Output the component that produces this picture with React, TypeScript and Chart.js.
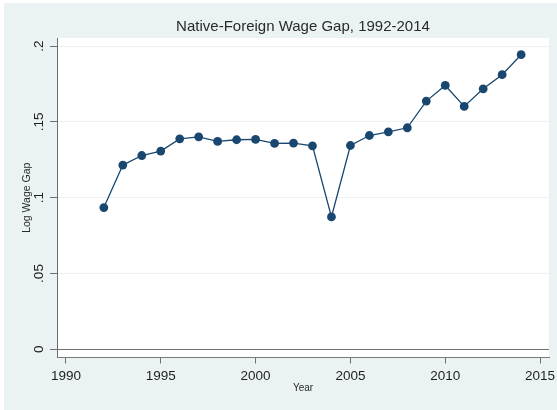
import React, { useEffect, useRef } from "react";
import { Chart, registerables } from "chart.js";

Chart.register(...registerables);

const years = [1992, 1993, 1994, 1995, 1996, 1997, 1998, 1999, 2000, 2001, 2002, 2003, 2004, 2005, 2006, 2007, 2008, 2009, 2010, 2011, 2012, 2013, 2014];
const wageGap = [0.0935, 0.1215, 0.1278, 0.1307, 0.1388, 0.1401, 0.1371, 0.1382, 0.1384, 0.1358, 0.136, 0.1342, 0.0873, 0.1344, 0.141, 0.1434, 0.1461, 0.1637, 0.174, 0.1602, 0.1718, 0.1811, 0.1943];
const xTicks = [1990, 1995, 2000, 2005, 2010, 2015];
const yTicks = [0, 0.05, 0.1, 0.15, 0.2];
const titleText = "Native-Foreign Wage Gap, 1992-2014";
const xTitle = "Year";
const yTitle = "Log Wage Gap";

const FONT = "'Liberation Sans', Arial, sans-serif";
const BG = "#eaf2f3";
const NAVY = "#1a476f";

const bgPlugin = {
  id: "stataBg",
  beforeDraw(chart: any) {
    const { ctx, chartArea } = chart;
    ctx.save();
    ctx.fillStyle = "#ffffff";
    ctx.fillRect(0, 0, chart.width, chart.height);
    ctx.fillStyle = BG;
    ctx.fillRect(4, 3, chart.width - 4, chart.height - 3);
    ctx.fillStyle = "#ffffff";
    ctx.fillRect(chartArea.left, chartArea.top, chartArea.right - chartArea.left, chartArea.bottom - chartArea.top);
    ctx.restore();
  },
};

export default function App() {
  const ref = useRef<HTMLCanvasElement | null>(null);

  useEffect(() => {
    if (!ref.current) return;
    const chart = new Chart(ref.current, {
      type: "line",
      data: {
        datasets: [
          {
            data: years.map((yr, i) => ({ x: yr, y: wageGap[i] })),
            borderColor: NAVY,
            backgroundColor: NAVY,
            borderWidth: 1.3,
            pointRadius: 4.4,
            pointBorderWidth: 0,
            pointBackgroundColor: NAVY,
            tension: 0,
            fill: false,
          },
        ],
      },
      options: {
        animation: false,
        responsive: false,
        layout: { padding: { top: 0, left: 0, right: 8, bottom: 0 } },
        plugins: {
          legend: { display: false },
          tooltip: { enabled: false },
          title: {
            display: true,
            text: titleText,
            fullSize: false,
            color: "#2a2a2a",
            font: { family: FONT, size: 15, weight: "normal" },
            padding: { top: 18, bottom: 2 },
          },
        },
        scales: {
          x: {
            type: "linear",
            min: 1989.53,
            max: 2015.47,
            afterBuildTicks: (scale: any) => {
              scale.ticks = xTicks.map((v) => ({ value: v }));
            },
            afterFit: (scale: any) => {
              scale.height = 52.5;
              scale.paddingLeft = 0;
              scale.paddingRight = 0;
            },
            ticks: {
              color: "#1e1e1e",
              font: { family: FONT, size: 13.5 },
              padding: 5,
              maxRotation: 0,
              minRotation: 0,
              callback: (v: any) => String(v),
            },
            grid: {
              display: true,
              drawOnChartArea: false,
              drawTicks: true,
              tickLength: 6,
              tickColor: "#6e6e6e",
              color: "#6e6e6e",
            },
            border: { display: true, color: "#7a7a7a", width: 1 },
            title: {
              display: true,
              text: xTitle,
              color: "#2a2a2a",
              font: { family: FONT, size: 10 },
              padding: { top: 0, bottom: 16 },
            },
          },
          y: {
            type: "linear",
            min: -0.0054,
            max: 0.2053,
            afterBuildTicks: (scale: any) => {
              scale.ticks = yTicks.map((v) => ({ value: v }));
            },
            afterFit: (scale: any) => {
              scale.width = 57;
              scale.paddingTop = 0;
              scale.paddingBottom = 0;
            },
            ticks: {
              color: "#1e1e1e",
              font: { family: FONT, size: 13.5 },
              padding: 1,
              minRotation: 90,
              maxRotation: 90,
              crossAlign: "center",
              callback: (v: any) => (Number(v) === 0 ? "0" : String(Number(v)).replace(/^0/, "")),
            },
            grid: {
              display: true,
              drawOnChartArea: true,
              drawTicks: true,
              tickLength: 7,
              tickColor: "#6e6e6e",
              lineWidth: 1,
              color: (ctx: any) => (ctx.tick && ctx.tick.value === 0 ? "#6e6e6e" : BG),
            },
            border: { display: true, color: "#6e6e6e", width: 1 },
            title: {
              display: true,
              text: yTitle,
              color: "#2a2a2a",
              font: { family: FONT, size: 10.5 },
              padding: { top: 20.7, bottom: 0 },
            },
          },
        },
      } as any,
      plugins: [bgPlugin],
    });
    return () => chart.destroy();
  }, []);

  return (
    <div style={{ position: "absolute", left: 0, top: 0, width: 557, height: 410 }}>
      <canvas ref={ref} width={557} height={410} style={{ width: 557, height: 410, display: "block" }} />
    </div>
  );
}
